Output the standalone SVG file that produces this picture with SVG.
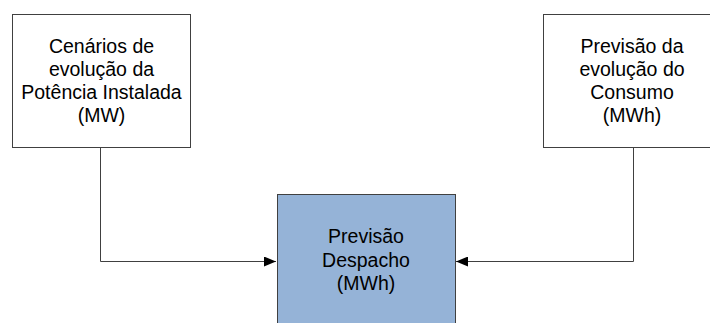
<svg xmlns="http://www.w3.org/2000/svg" width="710" height="323" viewBox="0 0 710 323">
<style>
.box{stroke:#404040;stroke-width:1}
.t{font-family:"Liberation Sans",Arial,sans-serif;font-size:19.5px;fill:#000;text-anchor:middle}
.c{fill:none;stroke:#404040;stroke-width:1}
</style>
<defs>
<marker id="ah" markerWidth="12" markerHeight="10" refX="12" refY="5" orient="auto" markerUnits="userSpaceOnUse">
<path d="M0,0 L12,5 L0,10 Z" fill="#000"/>
</marker>
</defs>
<rect width="710" height="323" fill="#fff"/>
<g id="connectors">
<path class="c" d="M100.5,147 V261.5 H276" marker-end="url(#ah)"/>
<path class="c" d="M633.5,147 V261.5 H456" marker-end="url(#ah)"/>
</g>
<g id="n1">
<rect class="box" x="12.5" y="14.5" width="178" height="133" fill="#fff"/>
<text class="t" x="101.5" y="53">Cenários de</text>
<text class="t" x="101.5" y="76">evolução da</text>
<text class="t" x="101.5" y="99">Potência Instalada</text>
<text class="t" x="101.5" y="122">(MW)</text>
</g>
<g id="n2">
<rect class="box" x="543.5" y="14.5" width="178" height="133" fill="#fff"/>
<text class="t" x="632" y="53">Previsão da</text>
<text class="t" x="632" y="76">evolução do</text>
<text class="t" x="632" y="99">Consumo</text>
<text class="t" x="632" y="122">(MWh)</text>
</g>
<g id="n3">
<rect class="box" x="277.5" y="194.5" width="178" height="140" fill="#95b3d7"/>
<text class="t" x="366" y="243">Previsão</text>
<text class="t" x="366" y="267">Despacho</text>
<text class="t" x="366" y="290">(MWh)</text>
</g>
</svg>
